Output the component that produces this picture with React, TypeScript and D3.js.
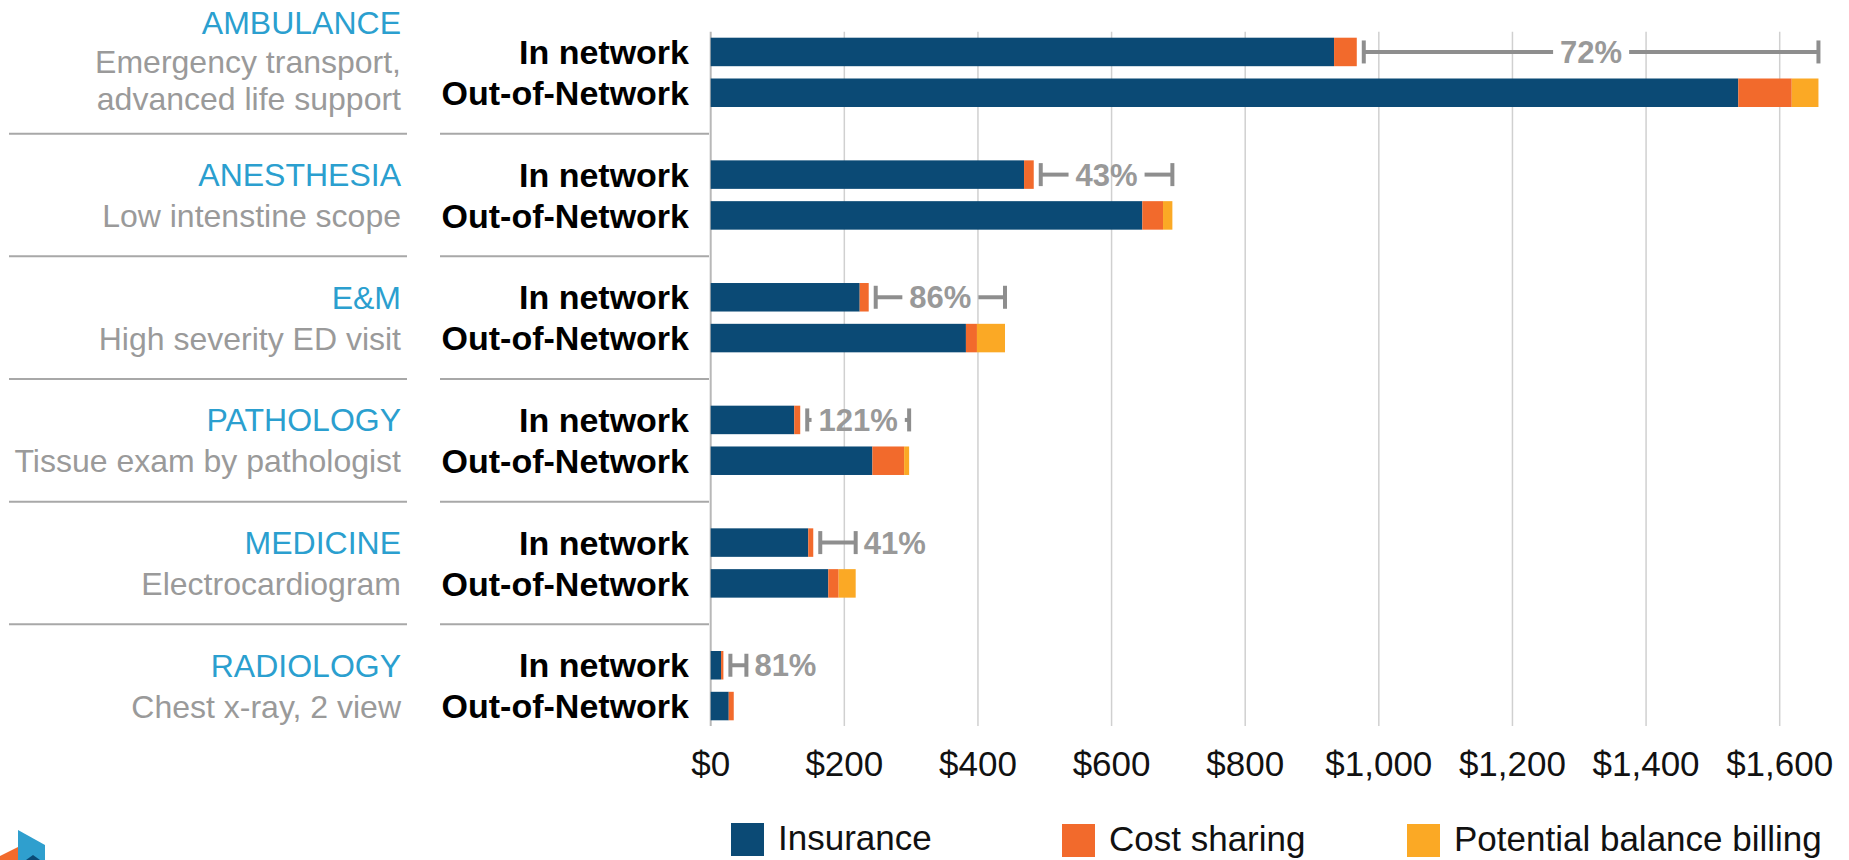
import React from "react";
import * as d3 from "d3";

const categories = ["AMBULANCE", "ANESTHESIA", "E&M", "PATHOLOGY", "MEDICINE", "RADIOLOGY"];
const descriptions = [
  ["Emergency transport,", "advanced life support"],
  ["Low intenstine scope"],
  ["High severity ED visit"],
  ["Tissue exam by pathologist"],
  ["Electrocardiogram"],
  ["Chest x-ray, 2 view"],
];
const networkLabels = ["In network", "Out-of-Network"];
const seriesNames = ["Insurance", "Cost sharing", "Potential balance billing"];

const insuranceIn = [933, 469, 223, 125, 146, 15.5];
const costSharingIn = [34, 14.5, 13.5, 9, 7.5, 3.5];
const balanceIn = [0, 0, 0, 0, 0, 0];
const insuranceOut = [1538, 646, 382, 242, 176, 27];
const costSharingOut = [80, 31, 16.5, 47.5, 15.5, 7.5];
const balanceOut = [40, 14, 42, 7.5, 25.5, 0];
const pctIncrease = ["72%", "43%", "86%", "121%", "41%", "81%"];
const tickValues = [0, 200, 400, 600, 800, 1000, 1200, 1400, 1600];

const COLORS = ["#0b4a75", "#f26a2c", "#fba925"];
const W = 1849;
const H = 860;
const FONT = "'Liberation Sans', Arial, Helvetica, sans-serif";

export default function App() {
  const x = d3.scaleLinear().domain([0, 1600]).range([710.7, 1779.7]);
  const y = d3
    .scaleBand<string>()
    .domain(categories)
    .range([37.7, 37.7 + 6 * 122.66])
    .paddingInner(0)
    .paddingOuter(0);
  const barH = 28.5;
  const oonOffset = 40.8;
  const plotTop = 31.7;
  const plotBottom = 726;
  const fmt = (v: number) => "$" + d3.format(",")(v);

  const stack = d3.stack<any>().keys(["ins", "cost", "bal"]);
  const rows: any[] = [];
  categories.forEach((c, i) => {
    rows.push({ cat: c, net: 0, ins: insuranceIn[i], cost: costSharingIn[i], bal: balanceIn[i] });
    rows.push({ cat: c, net: 1, ins: insuranceOut[i], cost: costSharingOut[i], bal: balanceOut[i] });
  });
  const stacked = stack(rows);

  const barY = (r: any) => (y(r.cat) as number) + (r.net === 1 ? oonOffset : 0);

  const separators = categories.slice(1).map((c, i) => {
    const prevBottom = (y(categories[i]) as number) + oonOffset + barH;
    const nextTop = y(c) as number;
    return (prevBottom + nextTop) / 2;
  });

  const brFont = 31;
  const textW = (s: string) =>
    s.split("").reduce((a, ch) => a + (ch === "%" ? 0.889 : 0.556), 0) * brFont;

  return (
    <svg
      width={W}
      height={H}
      style={{ position: "absolute", left: 0, top: 0, background: "#fff" }}
      fontFamily={FONT}
    >
      <rect x={0} y={0} width={W} height={H} fill="#fff" />
      {/* gridlines */}
      {tickValues.map((t) => (
        <line
          key={"g" + t}
          x1={x(t)}
          x2={x(t)}
          y1={plotTop}
          y2={plotBottom}
          stroke={t === 0 ? "#b8b8b8" : "#d0d0d0"}
          strokeWidth={t === 0 ? 2 : 1.5}
        />
      ))}
      {/* tick labels */}
      {tickValues.map((t) => (
        <text key={"t" + t} x={x(t)} y={776} textAnchor="middle" fontSize={35} fill="#111">
          {fmt(t)}
        </text>
      ))}
      {/* separators */}
      {separators.map((sy, i) => (
        <g key={"s" + i}>
          <line x1={9} x2={407} y1={sy} y2={sy} stroke="#a8a8a8" strokeWidth={2} />
          <line x1={440} x2={709} y1={sy} y2={sy} stroke="#a8a8a8" strokeWidth={2} />
        </g>
      ))}
      {/* bars */}
      {stacked.map((layer, li) => (
        <g key={"l" + li} fill={COLORS[li]}>
          {layer.map((d, di) => {
            const w = x(d[1]) - x(d[0]);
            if (w <= 0) return null;
            return (
              <rect key={di} x={x(d[0])} y={barY(rows[di])} width={w} height={barH} />
            );
          })}
        </g>
      ))}
      {/* category labels */}
      {categories.map((c, i) => {
        const inC = (y(c) as number) + barH / 2;
        const lines = [c, ...descriptions[i]];
        const ys =
          lines.length === 2 ? [inC, inC + oonOffset] : [inC - 29.5, inC + 9.5, inC + 46.5];
        return (
          <g key={"c" + c}>
            {lines.map((ln, k) => (
              <text
                key={k}
                x={401}
                y={ys[k] + 11.5}
                textAnchor="end"
                fontSize={32}
                fill={k === 0 ? "#2b9fcf" : "#9a9a9a"}
              >
                {ln}
              </text>
            ))}
            {networkLabels.map((nl, k) => (
              <text
                key={"n" + k}
                x={689}
                y={inC + k * oonOffset + 12.2}
                textAnchor="end"
                fontSize={34}
                fontWeight="bold"
                fill="#000"
              >
                {nl}
              </text>
            ))}
          </g>
        );
      })}
      {/* brackets */}
      {categories.map((c, i) => {
        const inTotal = insuranceIn[i] + costSharingIn[i] + balanceIn[i];
        const outTotal = insuranceOut[i] + costSharingOut[i] + balanceOut[i];
        const cy = (y(c) as number) + barH / 2;
        const left = x(inTotal) + 7;
        const right = Math.max(x(outTotal), left + 16);
        const tw = textW(pctIncrease[i]);
        const gap = 7;
        const inside = tw + 2 * gap <= right - left;
        const mid = (left + right) / 2;
        const col = "#8e8e8e";
        return (
          <g key={"b" + c} stroke={col} strokeWidth={4}>
            <line x1={left} x2={left} y1={cy - 11.5} y2={cy + 11.5} />
            <line x1={right} x2={right} y1={cy - 11.5} y2={cy + 11.5} />
            {inside ? (
              <>
                <line x1={left} x2={mid - tw / 2 - gap} y1={cy} y2={cy} />
                <line x1={mid + tw / 2 + gap} x2={right} y1={cy} y2={cy} />
              </>
            ) : (
              <line x1={left} x2={right} y1={cy} y2={cy} />
            )}
            <text
              x={inside ? mid : right + 8}
              y={cy + 11}
              textAnchor={inside ? "middle" : "start"}
              fontSize={brFont}
              fontWeight="bold"
              fill="#999"
              stroke="none"
            >
              {pctIncrease[i]}
            </text>
          </g>
        );
      })}
      {/* legend */}
      {seriesNames.map((s, i) => {
        const lx = [731, 1062, 1407][i];
        const ly = [823, 824, 824][i];
        return (
          <g key={"lg" + i}>
            <rect x={lx} y={ly} width={33} height={33} fill={COLORS[i]} />
            <text x={lx + 47} y={ly + 27} fontSize={35} fill="#111">
              {s}
            </text>
          </g>
        );
      })}
      {/* partial logo */}
      <polygon points="18,830 45,845 45,860 18,860" fill="#2f9fce" />
      <polygon points="0,856 18,847 18,860 0,860" fill="#f26a2c" />
      <polygon points="26,860 33,855 40,860" fill="#0b4a75" />
    </svg>
  );
}
